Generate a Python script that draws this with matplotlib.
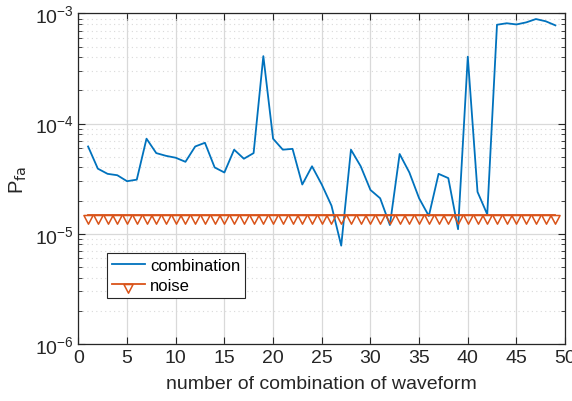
import numpy as np
import matplotlib
matplotlib.use('Agg')
import matplotlib.pyplot as plt
from matplotlib.path import Path
from matplotlib.ticker import LogLocator, MultipleLocator, NullFormatter

plt.rcParams['font.family'] = ['Liberation Sans', 'DejaVu Sans']

# combination index and false-alarm probabilities
combo_idx = list(range(1, 50))
combination = [
    6.2e-5, 3.9e-5, 3.5e-5, 3.4e-5, 3.0e-5, 3.1e-5, 7.3e-5, 5.4e-5, 5.1e-5, 4.9e-5,
    4.5e-5, 6.2e-5, 6.7e-5, 4.0e-5, 3.6e-5, 5.8e-5, 4.8e-5, 5.4e-5, 4.1e-4, 7.3e-5,
    5.8e-5, 5.9e-5, 2.8e-5, 4.1e-5, 2.8e-5, 1.8e-5, 7.8e-6, 5.8e-5, 4.1e-5, 2.5e-5,
    2.1e-5, 1.2e-5, 5.3e-5, 3.6e-5, 2.1e-5, 1.45e-5, 3.5e-5, 3.2e-5, 1.1e-5, 4.05e-4,
    2.4e-5, 1.5e-5, 7.9e-4, 8.15e-4, 7.95e-4, 8.3e-4, 8.9e-4, 8.5e-4, 7.8e-4,
]
noise = [1.48e-5] * len(combo_idx)

blue = '#0072BD'
orange = '#D95319'
axis_col = '#262626'

# downward triangle whose top edge sits on the data point (MATLAB look)
tri = Path([(-1, 0), (1, 0), (0, -1.9), (-1, 0)],
           [Path.MOVETO, Path.LINETO, Path.LINETO, Path.CLOSEPOLY])

fig = plt.figure(figsize=(5.72, 4.02), dpi=100)
ax = fig.add_axes([0.137, 0.142, 0.851, 0.822])

ax.plot(combo_idx, combination, color=blue, lw=1.3, label='combination')
ax.plot(combo_idx, noise, color=orange, lw=1.3, marker=tri, markersize=12.5,
        markerfacecolor='none', markeredgecolor=orange, markeredgewidth=1.1,
        label='noise')

ax.set_yscale('log')
ax.set_xlim(0, 50)
ax.set_ylim(1e-6, 1e-3)
ax.xaxis.set_major_locator(MultipleLocator(5))
ax.yaxis.set_major_locator(LogLocator(base=10, numticks=10))
ax.yaxis.set_minor_locator(LogLocator(base=10, subs=np.arange(2, 10), numticks=10))
ax.yaxis.set_minor_formatter(NullFormatter())

ax.grid(True, which='major', color='#d9d9d9', lw=0.9, ls='-')
ax.grid(True, which='minor', axis='y', color='#d9d9d9', lw=0.8, ls=(0, (1, 3)))
ax.set_axisbelow(True)

ax.tick_params(which='both', direction='in', top=True, right=True,
               colors=axis_col, labelcolor=axis_col, labelsize=14)
ax.tick_params(which='major', length=5)
ax.tick_params(which='minor', length=3)
for s in ax.spines.values():
    s.set_color(axis_col)
    s.set_linewidth(0.9)

ax.set_xlabel('number of combination of waveform', fontsize=14, color=axis_col,
              labelpad=7)
ax.set_ylabel(r'P$_{\rm fa}$', fontsize=14.5, color=axis_col, labelpad=4)

leg = ax.legend(loc='lower left', bbox_to_anchor=(0.058, 0.139), borderaxespad=0,
                fontsize=12, fancybox=False, framealpha=1, edgecolor=axis_col,
                handlelength=2.0, handletextpad=0.3, borderpad=0.3, labelspacing=0.3)
leg.get_frame().set_linewidth(0.8)

fig.savefig('out.png', dpi=100)
